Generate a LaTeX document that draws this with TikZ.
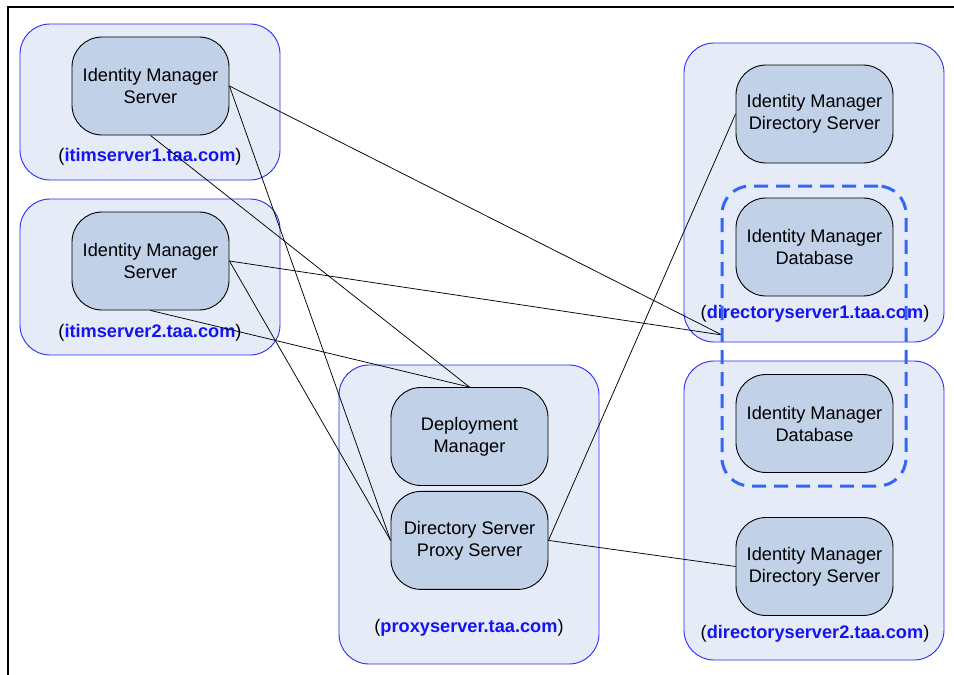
\documentclass[tikz,border=0pt]{standalone}
\usepackage{fontspec}
\setmainfont{Liberation Sans}
\usetikzlibrary{positioning}
\definecolor{hostblue}{HTML}{2B2BF5}
\definecolor{hostfill}{HTML}{E6ECF7}
\definecolor{compfill}{HTML}{C1D1E8}
\definecolor{nameblue}{HTML}{1414F0}
\definecolor{dashblue}{HTML}{3366F5}

\begin{document}
\begin{tikzpicture}[x=1pt, y=-1pt, node distance=5pt, font=\fontsize{18.2}{22}\selectfont,
    host/.style={draw=hostblue, fill=hostfill, rounded corners=30pt, minimum width=260pt, inner sep=0pt, line width=0.9pt},
    comp/.style={draw=black, fill=compfill, rounded corners=30pt, minimum width=157pt, minimum height=98pt, align=center, inner sep=0pt, line width=0.9pt},
    hostname/.style={inner sep=0pt},
    link/.style={line width=0.75pt}]
    \useasboundingbox (0,0) rectangle (954,675);
    \draw[line width=1.2pt] (8,675) -- (8,7) -- (954,7);

    % machines
    \node[host, minimum height=156pt] (itim1) at (150,102) {};
    \node[host, minimum height=156pt] (itim2) at (150,277) {};
    \node[host, minimum height=299pt] (proxy) at (469,514.5) {};
    \node[host, minimum height=299pt] (dir1) at (814,192.5) {};
    \node[host, minimum height=299pt] (dir2) at (814,510.5) {};

    % components
    \node[comp] (ims1) at (150.5,86) {Identity Manager\\Server};
    \node[comp] (ims2) at (150.5,261) {Identity Manager\\Server};
    \node[comp] (dm) at (469.5,436.5) {Deployment\\Manager};
    \node[comp, below=of dm] (dsps) {Directory Server\\Proxy Server};
    \node[comp] (imds1) at (814.5,114) {Identity Manager\\Directory Server};
    \node[comp] (imdb1) at (814.5,247) {Identity Manager\\Database};
    \node[comp] (imdb2) at (814.5,423.5) {Identity Manager\\Database};
    \node[comp] (imds2) at (814.5,566.5) {Identity Manager\\Directory Server};

    % host names
    \node[hostname] (name1) at (150,157) {(\textcolor{nameblue}{\textbf{itimserver1.taa.com}})};
    \node[hostname] (name2) at (150,333) {(\textcolor{nameblue}{\textbf{itimserver2.taa.com}})};
    \node[hostname] (name3) at (469,628) {(\textcolor{nameblue}{\textbf{proxyserver.taa.com}})};
    \node[hostname] (name4) at (815,314) {(\textcolor{nameblue}{\textbf{directoryserver1.taa.com}})};
    \node[hostname] (name5) at (815,634) {(\textcolor{nameblue}{\textbf{directoryserver2.taa.com}})};

    % connections
    \coordinate (tap) at (722,335);
    \foreach \s in {ims1, ims2} {
        \draw[link] (\s.east) -- (tap);
        \draw[link] (\s.east) -- (dsps.west);
        \draw[link] (\s.south) -- (dm.north);
    }
    \foreach \t in {imds1, imds2}
        \draw[link] (dsps.east) -- (\t.west);

    % replicated database
    \node[draw=dashblue, line width=3pt, dash pattern=on 14pt off 8pt, rounded corners=28pt, minimum width=184pt, minimum height=300pt] (dbgroup) at (814,336) {};
\end{tikzpicture}
\end{document}
